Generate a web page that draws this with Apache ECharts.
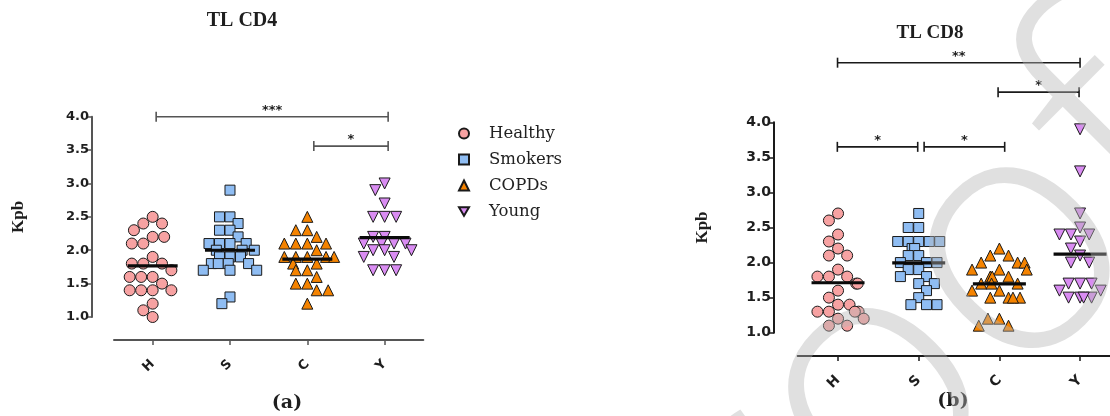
<!DOCTYPE html>
<html>
<head>
<meta charset="utf-8">
<title>Telomere length in CD4 and CD8 cells</title>
<script src="https://cdn.jsdelivr.net/npm/echarts@6/dist/echarts.min.js"></script>
<style>
  html, body { margin: 0; padding: 0; background: #ffffff; }
  #chart { width: 1110px; height: 416px; }
</style>
</head>
<body>
<div id="chart"></div>
<script>
// ---- data ---------------------------------------------------------------
const groups = ['H', 'S', 'C', 'Y'];
const groupNames = ['Healthy', 'Smokers', 'COPDs', 'Young'];
const yTicks = [1.0, 1.5, 2.0, 2.5, 3.0, 3.5, 4.0];

// Telomere length (Kpb) in CD4 cells
const cd4Healthy = [2.5, 2.4, 2.4, 2.3, 2.2, 2.2, 2.1, 2.1, 1.9, 1.8, 1.8, 1.8, 1.7, 1.6, 1.6, 1.6, 1.5, 1.4, 1.4, 1.4, 1.4, 1.2, 1.1, 1.0];
const cd4Smokers = [2.9, 2.5, 2.5, 2.4, 2.3, 2.3, 2.2, 2.1, 2.1, 2.1, 2.1, 2.0, 2.0, 2.0, 1.9, 1.9, 1.9, 1.8, 1.8, 1.8, 1.8, 1.7, 1.7, 1.7, 1.3, 1.2];
const cd4Copd    = [2.5, 2.3, 2.3, 2.2, 2.1, 2.1, 2.1, 2.1, 2.0, 1.9, 1.9, 1.9, 1.9, 1.9, 1.8, 1.8, 1.7, 1.7, 1.6, 1.5, 1.5, 1.4, 1.4, 1.2];
const cd4Young   = [3.0, 2.9, 2.7, 2.5, 2.5, 2.5, 2.2, 2.2, 2.1, 2.1, 2.1, 2.1, 2.0, 2.0, 2.0, 1.9, 1.9, 1.7, 1.7, 1.7];

// Telomere length (Kpb) in CD8 cells
const cd8Healthy = [2.7, 2.6, 2.4, 2.3, 2.2, 2.1, 2.1, 1.9, 1.8, 1.8, 1.8, 1.7, 1.7, 1.6, 1.5, 1.4, 1.4, 1.3, 1.3, 1.3, 1.3, 1.2, 1.2, 1.1, 1.1];
const cd8Smokers = [2.7, 2.5, 2.5, 2.3, 2.3, 2.3, 2.3, 2.3, 2.2, 2.2, 2.1, 2.1, 2.0, 2.0, 2.0, 1.9, 1.9, 1.8, 1.8, 1.7, 1.7, 1.6, 1.5, 1.4, 1.4, 1.4];
const cd8Copd    = [2.2, 2.1, 2.1, 2.0, 2.0, 2.0, 1.9, 1.9, 1.9, 1.8, 1.8, 1.8, 1.7, 1.7, 1.7, 1.6, 1.6, 1.5, 1.5, 1.5, 1.5, 1.2, 1.2, 1.1, 1.1];
const cd8Young   = [3.9, 3.3, 2.7, 2.5, 2.4, 2.4, 2.4, 2.3, 2.2, 2.1, 2.0, 2.0, 1.7, 1.7, 1.7, 1.6, 1.6, 1.5, 1.5, 1.5, 1.5];

// Significant pairwise comparisons: [from, to, stars]
const cd4Comparisons = [['H', 'Y', '***'], ['C', 'Y', '*']];
const cd8Comparisons = [['H', 'Y', '**'], ['C', 'Y', '*'], ['H', 'S', '*'], ['S', 'C', '*']];

// ---- layout & style -----------------------------------------------------
const markerColors = ['#f7a2a2', '#8fbdf3', '#f58300', '#d98cf2'];
const markerShapes = ['circle', 'rect', 'triangle', 'path://M0,0L12,0L6,10.4Z'];
const markerSizes = [11, 10, 11, 11];

const panels = [
  {
    values: [cd4Healthy, cd4Smokers, cd4Copd, cd4Young],
    comparisons: cd4Comparisons,
    bracketLevels: [4.0, 3.56],
    bracketNudge: [[3.5, 3.5], [6.5, 3.5]],
    grid: { left: 114, top: 116.7, width: 309.3, height: 200.3 },
    axisColor: '#555555', yOffset: 22, xOffset: 23, nameGap: 65,
    tickFont: 13, meanHalf: 25, bracketColor: '#555555'
  },
  {
    values: [cd8Healthy, cd8Smokers, cd8Copd, cd8Young],
    comparisons: cd8Comparisons,
    bracketLevels: [4.85, 4.43, 3.65, 3.65],
    bracketNudge: [[-0.5, 0], [-1.3, -1], [-0.7, -1], [5.4, 5.3]],
    grid: { left: 797.7, top: 122.3, width: 322.7, height: 210.4 },
    axisColor: '#1a1a1a', yOffset: 23.7, xOffset: 23.3, nameGap: 63,
    tickFont: 14, meanHalf: 26.5, bracketColor: '#1a1a1a'
  }
];

const mean = arr => arr.reduce((s, v) => s + v, 0) / arr.length;

const grids = [], xAxes = [], yAxes = [], series = [];

panels.forEach((p, pi) => {
  grids.push(Object.assign({ containLabel: false, outerBoundsMode: 'none' }, p.grid));

  xAxes.push({
    type: 'category', gridIndex: pi, data: groups,
    offset: p.xOffset,
    jitter: 56, jitterOverlap: false, jitterMargin: 0.5,
    axisLine: { show: true, lineStyle: { color: p.axisColor, width: 2 } },
    axisTick: { show: true, alignWithLabel: true, length: 5, lineStyle: { color: p.axisColor, width: 1.5 } },
    axisLabel: {
      rotate: 45, margin: 22, color: '#1e1e1e',
      fontFamily: 'DejaVu Sans', fontWeight: 'bold', fontSize: p.tickFont
    },
    splitLine: { show: false }
  });

  yAxes.push({
    type: 'value', gridIndex: pi, min: yTicks[0], max: yTicks[yTicks.length - 1], interval: 0.5,
    offset: p.yOffset,
    name: 'Kpb', nameLocation: 'middle', nameGap: p.nameGap, nameRotate: 90,
    nameTextStyle: { fontFamily: 'Liberation Serif', fontWeight: 'bold', fontSize: 17, color: '#1e1e1e' },
    axisLine: { show: true, lineStyle: { color: p.axisColor, width: 2 } },
    axisTick: { show: true, length: 5, lineStyle: { color: p.axisColor, width: 1.5 } },
    axisLabel: {
      margin: 3, color: '#1e1e1e', formatter: v => v.toFixed(1),
      fontFamily: 'DejaVu Sans', fontWeight: 'bold', fontSize: p.tickFont
    },
    splitLine: { show: false }
  });

  // one scatter series per group
  p.values.forEach((vals, gi) => {
    series.push({
      type: 'scatter', name: groupNames[gi],
      xAxisIndex: pi, yAxisIndex: pi,
      symbol: markerShapes[gi], symbolSize: markerSizes[gi],
      itemStyle: { color: markerColors[gi], borderColor: '#1a1a1a', borderWidth: 1, opacity: 1 },
      emphasis: { disabled: true },
      data: vals.map(v => [groups[gi], v]),
      z: 3
    });
  });

  // group mean bars
  series.push({
    type: 'custom', xAxisIndex: pi, yAxisIndex: pi, silent: true, z: 5,
    data: p.values.map((vals, gi) => [gi, mean(vals)]),
    renderItem: (params, api) => {
      const c = api.coord([api.value(0), api.value(1)]);
      return {
        type: 'line',
        shape: { x1: c[0] - p.meanHalf, y1: c[1], x2: c[0] + p.meanHalf, y2: c[1] },
        style: { stroke: '#0a0a0a', lineWidth: 3.2 }
      };
    }
  });

  // significance brackets
  series.push({
    type: 'custom', xAxisIndex: pi, yAxisIndex: pi, silent: true, clip: false, z: 6,
    data: p.comparisons.map((c, ci) => [groups.indexOf(c[0]), groups.indexOf(c[1]), p.bracketLevels[ci]]),
    renderItem: (params, api) => {
      const i = params.dataIndex;
      const a = api.coord([api.value(0), api.value(2)]);
      const b = api.coord([api.value(1), api.value(2)]);
      const x1 = a[0] + p.bracketNudge[i][0];
      const x2 = b[0] + p.bracketNudge[i][1];
      const y = a[1];
      const st = { stroke: p.bracketColor, lineWidth: 1.6 };
      return {
        type: 'group',
        children: [
          { type: 'line', shape: { x1: x1, y1: y, x2: x2, y2: y }, style: st },
          { type: 'line', shape: { x1: x1, y1: y - 5, x2: x1, y2: y + 5 }, style: st },
          { type: 'line', shape: { x1: x2, y1: y - 5, x2: x2, y2: y + 5 }, style: st },
          {
            type: 'text',
            style: {
              x: (x1 + x2) / 2, y: y, text: p.comparisons[i][2],
              align: 'center', verticalAlign: 'bottom',
              font: 'bold 13px "DejaVu Sans"', fill: '#1e1e1e'
            }
          }
        ]
      };
    }
  });
});

const option = {
  backgroundColor: '#ffffff',
  animation: false,
  grid: grids,
  xAxis: xAxes,
  yAxis: yAxes,
  legend: {
    data: groupNames, orient: 'vertical', left: 453, top: 120,
    itemWidth: 10, itemHeight: 10, itemGap: 9, selectedMode: false,
    textStyle: { fontFamily: 'DejaVu Serif', fontSize: 16.5, color: '#222222', lineHeight: 16, padding: [0, 0, 0, 15] }
  },
  graphic: [
    { type: 'text', silent: true, x: 242, y: 21,
      style: { text: 'TL CD4', align: 'center', verticalAlign: 'middle', font: 'bold 20px "Liberation Serif"', fill: '#1e1e1e' } },
    { type: 'text', silent: true, x: 930, y: 33,
      style: { text: 'TL CD8', align: 'center', verticalAlign: 'middle', font: 'bold 19px "Liberation Serif"', fill: '#1e1e1e' } },
    { type: 'text', silent: true, x: 287, y: 403,
      style: { text: '(a)', align: 'center', verticalAlign: 'middle', font: 'bold 19px "DejaVu Serif"', fill: '#1e1e1e' } },
    { type: 'text', silent: true, x: 953, y: 401,
      style: { text: '(b)', align: 'center', verticalAlign: 'middle', font: 'bold 19px "DejaVu Serif"', fill: '#1e1e1e' } },
    // diagonal "proof" stamp across panel (b)
    { type: 'text', silent: true, z: 100, x: 862, y: 406, rotation: 45 * Math.PI / 180,
      style: { text: 'proof', align: 'center', verticalAlign: 'middle', font: '300 340px "Open Sans"', fill: 'rgba(180,180,180,0.42)' } }
  ],
  series: series
};

const chart = echarts.init(document.getElementById('chart'));
chart.setOption(option);
</script>
</body>
</html>
